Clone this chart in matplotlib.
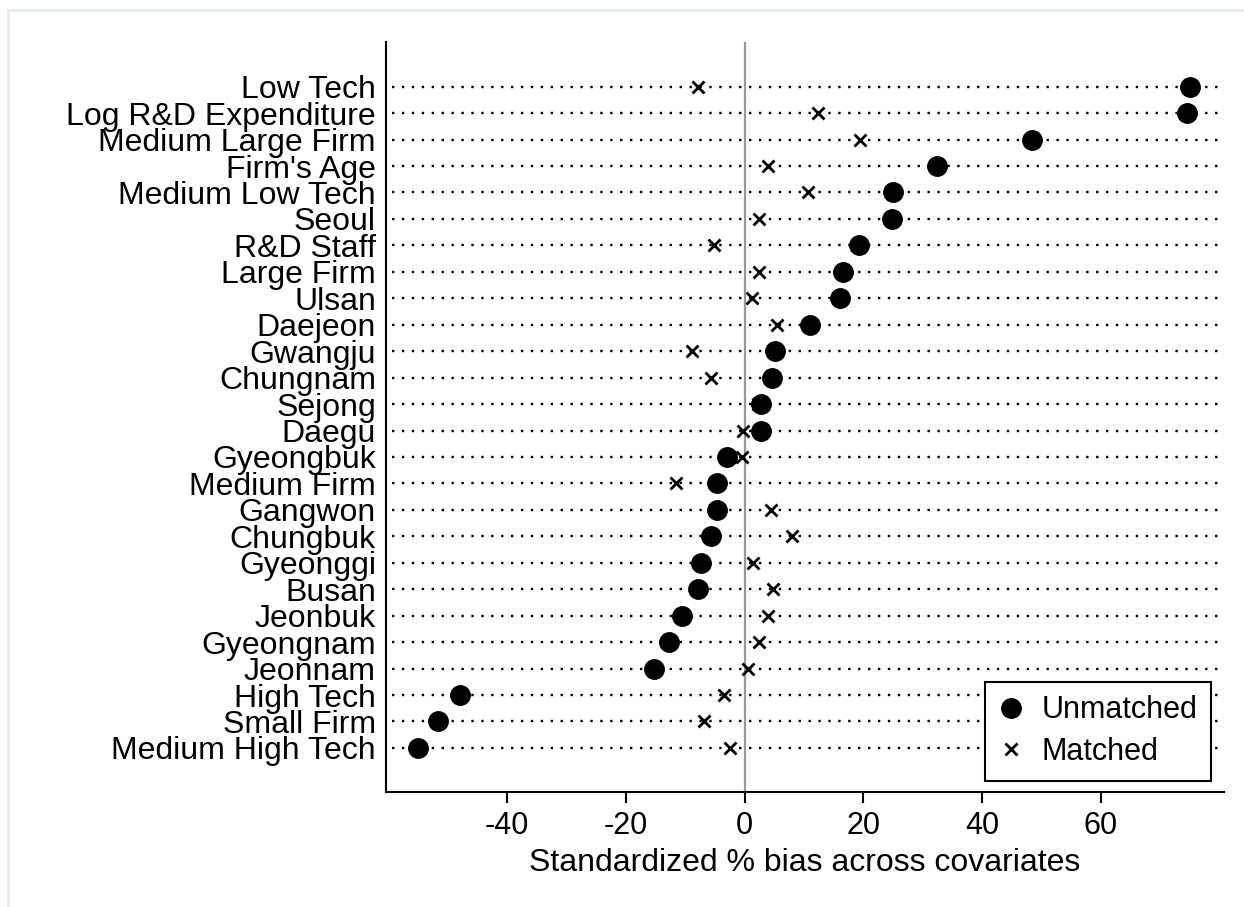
import matplotlib.pyplot as plt
import numpy as np

plt.rcParams['font.family'] = ['Liberation Sans', 'DejaVu Sans']

covariates = ["Low Tech", "Log R&D Expenditure", "Medium Large Firm", "Firm's Age",
              "Medium Low Tech", "Seoul", "R&D Staff", "Large Firm", "Ulsan", "Daejeon",
              "Gwangju", "Chungnam", "Sejong", "Daegu", "Gyeongbuk", "Medium Firm",
              "Gangwon", "Chungbuk", "Gyeonggi", "Busan", "Jeonbuk", "Gyeongnam",
              "Jeonnam", "High Tech", "Small Firm", "Medium High Tech"]
unmatched = [75.0, 74.5, 48.4, 32.4, 25.0, 24.8, 19.2, 16.5, 16.0, 11.0,
             5.2, 4.6, 2.7, 2.7, -3.0, -4.6, -4.7, -5.6, -7.3, -7.8,
             -10.6, -12.8, -15.2, -47.9, -51.6, -55.0]
matched = [-7.9, 12.3, 19.4, 4.0, 10.6, 2.4, -5.1, 2.5, 1.3, 5.4,
           -8.9, -5.6, 2.2, -0.3, -0.5, -11.6, 4.4, 7.9, 1.4, 4.7,
           3.9, 2.4, 0.5, -3.4, -6.9, -2.5]
xticks = [-40, -20, 0, 20, 40, 60]

n = len(covariates)
ypos = np.arange(n)[::-1]

fig = plt.figure(figsize=(12.44, 9.07), dpi=100)
ax = fig.add_axes([0.310, 0.127, 0.674, 0.827])
xlim = (-60.5, 80.8)
ax.set_xlim(*xlim)
ax.set_ylim(-1.66, n - 1 + 1.70)

# dotted row guides
ax.hlines(ypos, xlim[0] + 1.0, xlim[1] - 0.6, colors='black',
          linestyles=(0, (1, 3.2)), linewidth=1.7, zorder=1)
ax.axvline(0, color='#999999', linewidth=1.6, zorder=1)

ax.plot(unmatched, ypos, 'o', color='black', markersize=14, linestyle='none',
        label='Unmatched', zorder=3)
ax.plot(matched, ypos, 'x', color='black', markersize=8, markeredgewidth=2,
        linestyle='none', label='Matched', zorder=3)

ax.set_yticks(ypos)
ax.set_yticklabels(covariates, fontsize=23)
ax.tick_params(axis='y', length=0, pad=7)
ax.set_xticks(xticks)
ax.set_xticklabels([str(t) for t in xticks], fontsize=22)
ax.tick_params(axis='x', length=8, width=1.5, pad=6)
ax.set_xlabel("Standardized % bias across covariates", fontsize=23, labelpad=5)

for s in ['top', 'right']:
    ax.spines[s].set_visible(False)
for s in ['left', 'bottom']:
    ax.spines[s].set_linewidth(1.5)

leg = ax.legend(loc='lower right', bbox_to_anchor=(0.9845, 0.0147), borderaxespad=0,
                fontsize=22, frameon=True, fancybox=False, edgecolor='black', framealpha=1,
                handlelength=0.8, handletextpad=0.6, borderpad=0.45, labelspacing=0.38)
leg.get_frame().set_linewidth(1.5)

# faint screenshot border
fig.add_artist(plt.Line2D([0.0065, 1.0], [0.989, 0.989], color='#e6edef', linewidth=2))
fig.add_artist(plt.Line2D([0.0065, 0.0065], [0.0, 0.989], color='#e6edef', linewidth=2))

fig.savefig("out.png", dpi=100)
